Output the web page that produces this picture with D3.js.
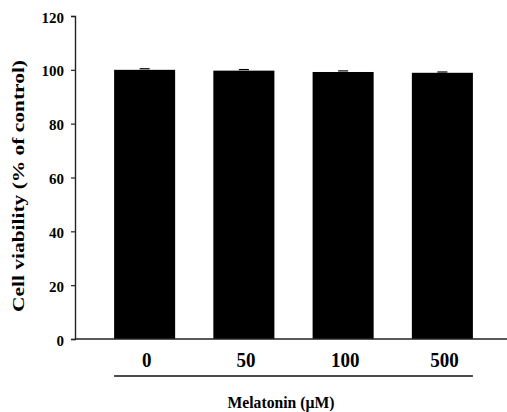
<!DOCTYPE html>
<html>
<head>
<meta charset="utf-8">
<script src="https://cdn.jsdelivr.net/npm/d3@7"></script>
<style>
  body { margin: 0; background: #fff; }
  text { font-family: "Liberation Serif", "Times New Roman", serif; font-weight: bold; fill: #000; }
</style>
</head>
<body>
<svg width="507" height="412"></svg>
<script>
const categories = ["0", "50", "100", "500"];
const viability = [100, 99.7, 99.2, 98.9];
const errors = [0.4, 0.4, 0.4, 0.3];
const yTicks = [0, 20, 40, 60, 80, 100, 120];

const svg = d3.select("svg");
const left = 75, bottom = 339;

const x = d3.scaleBand().domain(categories).range([95, 492])
  .paddingInner(0.385).paddingOuter(0.1925);
const y = d3.scaleLinear().domain([0, 120]).range([bottom, 16]);

// y axis
const yAxis = svg.append("g")
  .attr("transform", `translate(${left},0)`)
  .call(d3.axisLeft(y).tickValues(yTicks).tickSize(4).tickPadding(7));
yAxis.select(".domain").attr("stroke", "#222").attr("stroke-width", 1.4);
yAxis.selectAll(".tick line").attr("stroke", "#222").attr("stroke-width", 1.2);
yAxis.selectAll(".tick text")
  .attr("dy", "0.4em")
  .style("font-size", "15px")
  .style("font-family", "'Liberation Serif', serif").style("font-weight", "bold");

// bars
svg.selectAll(".bar")
  .data(viability)
  .enter()
  .append("rect")
  .attr("class", "bar")
  .attr("x", (d, i) => x(categories[i]))
  .attr("y", (d) => y(d))
  .attr("width", x.bandwidth())
  .attr("height", (d) => bottom - y(d))
  .attr("fill", "#000");

// small error caps
svg.selectAll(".err")
  .data(viability)
  .enter()
  .append("line")
  .attr("x1", (d, i) => x(categories[i]) + x.bandwidth() / 2 - 5)
  .attr("x2", (d, i) => x(categories[i]) + x.bandwidth() / 2 + 5)
  .attr("y1", (d, i) => y(d + errors[i]))
  .attr("y2", (d, i) => y(d + errors[i]))
  .attr("stroke", "#000")
  .attr("stroke-width", 1.2);

// x baseline
svg.append("line")
  .attr("x1", left).attr("x2", 507)
  .attr("y1", bottom).attr("y2", bottom)
  .attr("stroke", "#222").attr("stroke-width", 1.4);

// category labels (scan is slightly stretched vertically)
svg.selectAll(".xlab")
  .data(categories)
  .enter()
  .append("text")
  .attr("transform", (d) => `translate(${x(d) + x.bandwidth() / 2 + 2},367) scale(1,1.15)`)
  .attr("text-anchor", "middle")
  .style("font-size", "19px")
  .text((d) => d);

// line under categories
svg.append("line")
  .attr("x1", x(categories[0])).attr("x2", x(categories[3]) + x.bandwidth())
  .attr("y1", 376).attr("y2", 376)
  .attr("stroke", "#111").attr("stroke-width", 1.5);

svg.append("text")
  .attr("transform", "translate(281,408) scale(1,1.1)")
  .attr("text-anchor", "middle")
  .attr("textLength", 107)
  .attr("lengthAdjust", "spacingAndGlyphs")
  .style("font-size", "15px")
  .text("Melatonin (\u00b5M)");

svg.append("text")
  .attr("transform", "translate(24,186) rotate(-90)")
  .attr("text-anchor", "middle")
  .attr("textLength", 252)
  .attr("lengthAdjust", "spacingAndGlyphs")
  .style("font-size", "17px")
  .text("Cell viability (% of control)");
</script>
</body>
</html>
